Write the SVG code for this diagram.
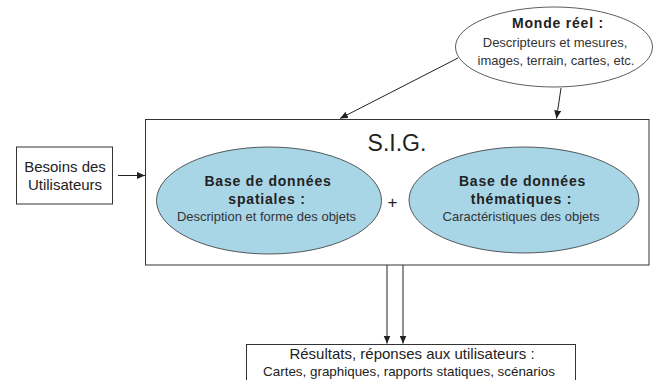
<svg xmlns="http://www.w3.org/2000/svg" width="653" height="380" viewBox="0 0 653 380">
<defs>
<style>
.box{fill:#fff;stroke:#333;stroke-width:1}
.ell{fill:#fff;stroke:#333;stroke-width:0.8}
.db{fill:#a8d6e7;stroke:#333;stroke-width:0.8}
.t{font-family:"Liberation Sans",Arial,sans-serif;fill:#222;text-anchor:middle}
.b{font-weight:bold;font-size:14px;letter-spacing:0.8px}
.r{font-size:13px;fill:#333}
.edge{stroke:#222;stroke-width:1;fill:none;marker-end:url(#ah)}
</style>
<marker id="ah" markerUnits="userSpaceOnUse" markerWidth="9" markerHeight="8" refX="8" refY="3.5" orient="auto">
<path d="M0,0 L8,3.5 L0,7 z" fill="#222"/>
</marker>
</defs>
<g id="connectors">
<line class="edge" x1="118" y1="175.5" x2="145" y2="175.5"/>
<line class="edge" x1="458" y1="58" x2="340" y2="118.5"/>
<line class="edge" x1="561" y1="88" x2="556.5" y2="118.5"/>
<line class="edge" x1="387" y1="265" x2="387" y2="343.5"/>
<line class="edge" x1="403" y1="265" x2="403" y2="343.5"/>
</g>
<g id="sig">
<rect class="box" x="145.5" y="119.5" width="503.5" height="145.5"/>
<text class="t" x="397" y="150.5" font-size="23">S.I.G.</text>
<text class="t" x="392.5" y="208" font-size="17">+</text>
</g>
<g id="monde">
<ellipse class="ell" cx="554" cy="47" rx="98.5" ry="40"/>
<text class="t b" x="558" y="28">Monde réel :</text>
<text class="t r" x="555" y="47">Descripteurs et mesures,</text>
<text class="t r" x="556" y="65">images, terrain, cartes, etc.</text>
</g>
<g id="besoins">
<rect class="box" x="16.5" y="147" width="96" height="57"/>
<text class="t" x="65" y="171.5" font-size="15" fill="#333">Besoins des</text>
<text class="t" x="65" y="190" font-size="15" fill="#333">Utilisateurs</text>
</g>
<g id="spatiales">
<ellipse class="db" cx="269" cy="200.5" rx="112.5" ry="53.5"/>
<text class="t b" x="268" y="185.5">Base de données</text>
<text class="t b" x="267" y="204">spatiales :</text>
<text class="t r" x="266.5" y="220.5">Description et forme des objets</text>
</g>
<g id="thematiques">
<ellipse class="db" cx="524" cy="200" rx="115" ry="53"/>
<text class="t b" x="522.5" y="185.5">Base de données</text>
<text class="t b" x="521.5" y="204">thématiques :</text>
<text class="t r" x="521" y="220.5">Caractéristiques des objets</text>
</g>
<g id="resultats">
<rect class="box" x="246.5" y="344.5" width="329" height="50"/>
<text class="t" x="412" y="359" font-size="15" fill="#333">Résultats, réponses aux utilisateurs :</text>
<text class="t" x="409" y="376" font-size="13.4" fill="#333">Cartes, graphiques, rapports statiques, scénarios</text>
</g>
</svg>
